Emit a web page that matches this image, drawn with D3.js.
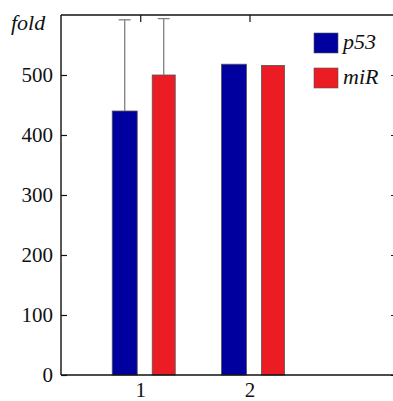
<!DOCTYPE html>
<html>
<head>
<meta charset="utf-8">
<script src="https://cdn.jsdelivr.net/npm/d3@7/dist/d3.min.js"></script>
</head>
<body style="margin:0; background:#fff">
<svg id="figure" width="393" height="401" style="display:block"></svg>
<script>
// Groups along the x axis
const groups = [1, 2];
// Series names and values (fold change)
const seriesNames = ["p53", "miR"];
const p53Values = [440, 518];
const miRValues = [500, 516];
// Upper error (top of whisker), only for group 1
const p53ErrTop = [592, null];
const miRErrTop = [594, null];
const yTicks = [0, 100, 200, 300, 400, 500];
const colors = ["#00009E", "#EC1C24"];

const face = "'Times New Roman'";
const svg = d3.select("#figure");
const mLeft = 61, mRight = 397, mTop = 15, mBottom = 375;

const x = d3.scaleLinear().domain([0.275, 3.35]).range([mLeft, mRight]);
const y = d3.scaleLinear().domain([0, 600]).range([mBottom, mTop]);

const seriesVals = [p53Values, miRValues];
const seriesErr = [p53ErrTop, miRErrTop];
const offsets = [-15.5, 23.5];   // bar centre offset from group centre (px)
const widths = [25, 23];

// Bars
seriesVals.forEach((vals, s) => {
  svg.append("g").selectAll("rect").data(groups).join("rect")
    .attr("x", g => x(g) + offsets[s] - widths[s] / 2)
    .attr("y", (g, i) => y(vals[i]))
    .attr("width", widths[s])
    .attr("height", (g, i) => y(0) - y(vals[i]))
    .attr("fill", colors[s])
    .attr("stroke", "#555")
    .attr("stroke-width", 0.8);
});

// Error whiskers (upper only)
seriesErr.forEach((errs, s) => {
  const g = svg.append("g").attr("stroke", "#808080").attr("stroke-width", 1.3);
  groups.forEach((gv, i) => {
    if (errs[i] == null) return;
    const cx = x(gv) + offsets[s];
    g.append("line").attr("x1", cx).attr("x2", cx)
      .attr("y1", y(seriesVals[s][i])).attr("y2", y(errs[i]));
    g.append("line").attr("x1", cx - 6).attr("x2", cx + 6)
      .attr("y1", y(errs[i])).attr("y2", y(errs[i]));
  });
});

// Frame and inward ticks
const axisColor = "#111";
const frame = svg.append("g").attr("stroke", axisColor).attr("stroke-width", 1.4).attr("fill", "none");
frame.append("line").attr("x1", mLeft).attr("x2", mLeft).attr("y1", mTop).attr("y2", mBottom);
frame.append("line").attr("x1", mLeft).attr("x2", mRight).attr("y1", mBottom).attr("y2", mBottom);
frame.append("line").attr("x1", mLeft).attr("x2", mRight).attr("y1", mTop).attr("y2", mTop);
frame.append("line").attr("x1", mRight).attr("x2", mRight).attr("y1", mTop).attr("y2", mBottom);

const gy = svg.append("g").attr("transform", `translate(${mLeft},0)`)
  .call(d3.axisLeft(y).tickValues(yTicks).tickSizeInner(-6).tickSizeOuter(0).tickPadding(8));
gy.select(".domain").remove();
gy.selectAll(".tick line").attr("stroke", axisColor).attr("stroke-width", 1.2);
gy.attr("font-family", null).attr("font-size", null);
gy.selectAll(".tick text").attr("fill", "#111")
  .style("font-family", face).style("font-size", "21px");

const gyR = svg.append("g").attr("transform", `translate(${mRight},0)`)
  .call(d3.axisRight(y).tickValues(yTicks).tickSizeInner(-6).tickSizeOuter(0).tickFormat(""));
gyR.select(".domain").remove();
gyR.selectAll(".tick line").attr("stroke", axisColor).attr("stroke-width", 1.2);

const gx = svg.append("g").attr("transform", `translate(0,${mBottom})`)
  .call(d3.axisBottom(x).tickValues(groups).tickSize(0).tickPadding(7).tickFormat(d3.format("d")));
gx.select(".domain").remove();
gx.attr("font-family", null).attr("font-size", null);
gx.selectAll(".tick text").attr("fill", "#111")
  .style("font-family", face).style("font-size", "21px");

const gxT = svg.append("g").attr("transform", `translate(0,${mTop})`)
  .call(d3.axisTop(x).tickValues(groups).tickSizeInner(-7).tickSizeOuter(0).tickFormat(""));
gxT.select(".domain").remove();
gxT.selectAll(".tick line").attr("stroke", axisColor).attr("stroke-width", 1.2);

// Axis title
svg.append("text").attr("x", 11).attr("y", 30)
  .style("font-family", face).style("font-size", "22px").style("font-style", "italic")
  .attr("fill", "#111").text("fold");

// Legend
seriesNames.forEach((name, i) => {
  const ly = 33 + i * 35;
  svg.append("rect").attr("x", 314).attr("y", ly).attr("width", 24).attr("height", 20)
    .attr("fill", colors[i]).attr("stroke", "#555").attr("stroke-width", 0.6);
  svg.append("text").attr("x", 343).attr("y", ly + 16)
    .style("font-family", face).style("font-size", "22px").style("font-style", "italic")
    .attr("fill", "#111").text(name);
});
</script>
</body>
</html>
